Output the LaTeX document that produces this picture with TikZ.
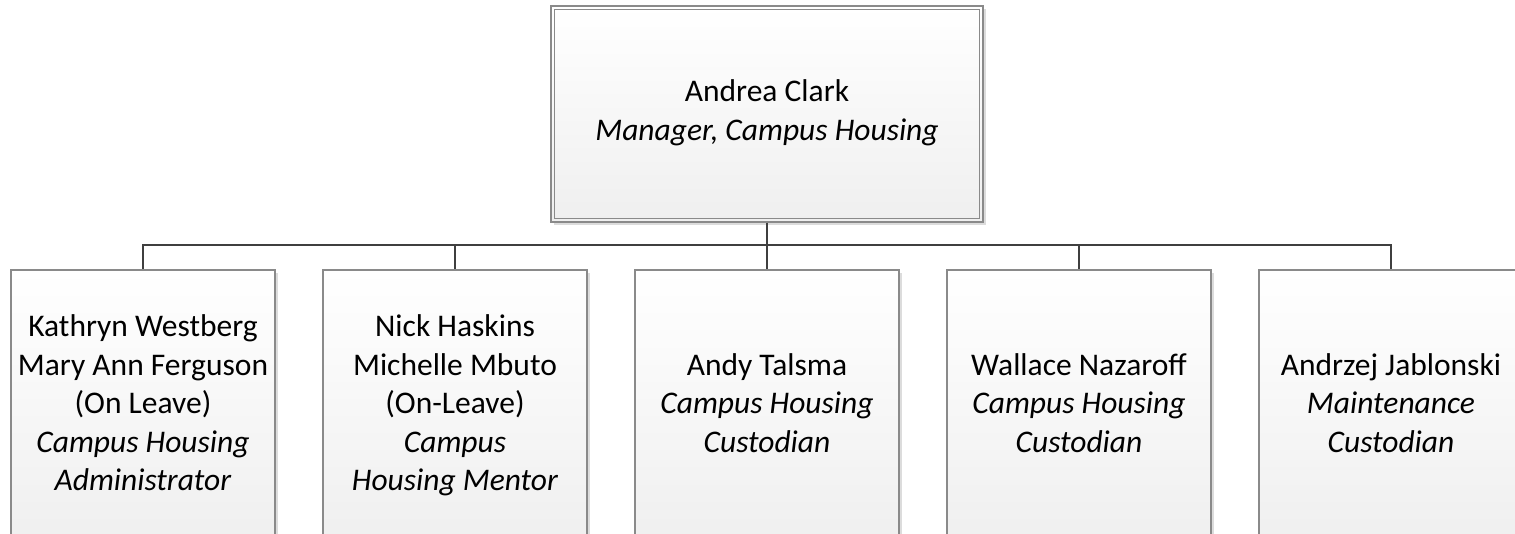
\documentclass[tikz,border=0pt]{standalone}
\usepackage{fontspec}
\setmainfont{Carlito}
\usetikzlibrary{shadows}
\definecolor{boxline}{HTML}{8A8A8A}
\definecolor{connline}{HTML}{3F3F3F}
\definecolor{fillbot}{HTML}{EFEFEF}
\definecolor{shadowgray}{HTML}{DCDCDC}
\tikzset{
  orgbox/.style={draw=boxline, line width=1.4pt, top color=white, bottom color=fillbot,
    drop shadow={shadow xshift=3pt, shadow yshift=-3pt, fill=shadowgray, opacity=1},
    inner sep=0pt, align=center, text depth=8pt, font=\fontsize{31.5pt}{38.5pt}\selectfont},
  staffbox/.style={orgbox, minimum width=264pt, minimum height=274pt},
  headbox/.style={orgbox, minimum width=432pt, minimum height=216pt},
  innerline/.style={draw=boxline, line width=1.4pt},
  conn/.style={draw=connline, line width=2.4pt}
}
\begin{document}
\begin{tikzpicture}[x=1pt, y=1pt]
\clip (0,0) rectangle (1515,-533);
\fill[white] (0,0) rectangle (1515,-533);
% head
\node[headbox] (head) at (767,-114) {Andrea Clark\\\textit{Manager, Campus Housing}};
\draw[innerline] ([shift={(4pt,-4pt)}]head.north west) rectangle ([shift={(-4pt,4pt)}]head.south east);
% staff
\node[staffbox] (s1) at (143,-407) {Kathryn Westberg\\Mary Ann Ferguson\\(On Leave)\\\textit{Campus Housing}\\\textit{Administrator}};
\node[staffbox] (s2) at (455,-407) {Nick Haskins\\Michelle Mbuto\\(On-Leave)\\\textit{Campus}\\\textit{Housing Mentor}};
\node[staffbox] (s3) at (767,-407) {Andy Talsma\\\textit{Campus Housing}\\\textit{Custodian}};
\node[staffbox] (s4) at (1079,-407) {Wallace Nazaroff\\\textit{Campus Housing}\\\textit{Custodian}};
\node[staffbox] (s5) at (1391,-407) {Andrzej Jablonski\\\textit{Maintenance}\\\textit{Custodian}};
% connectors
\coordinate (bus) at (767,-245);
\draw[conn] (head.south) -- (bus);
\foreach \s in {s1,s2,s3,s4,s5} {
  \draw[conn] (bus) -| (\s.north);
}
\end{tikzpicture}
\end{document}
